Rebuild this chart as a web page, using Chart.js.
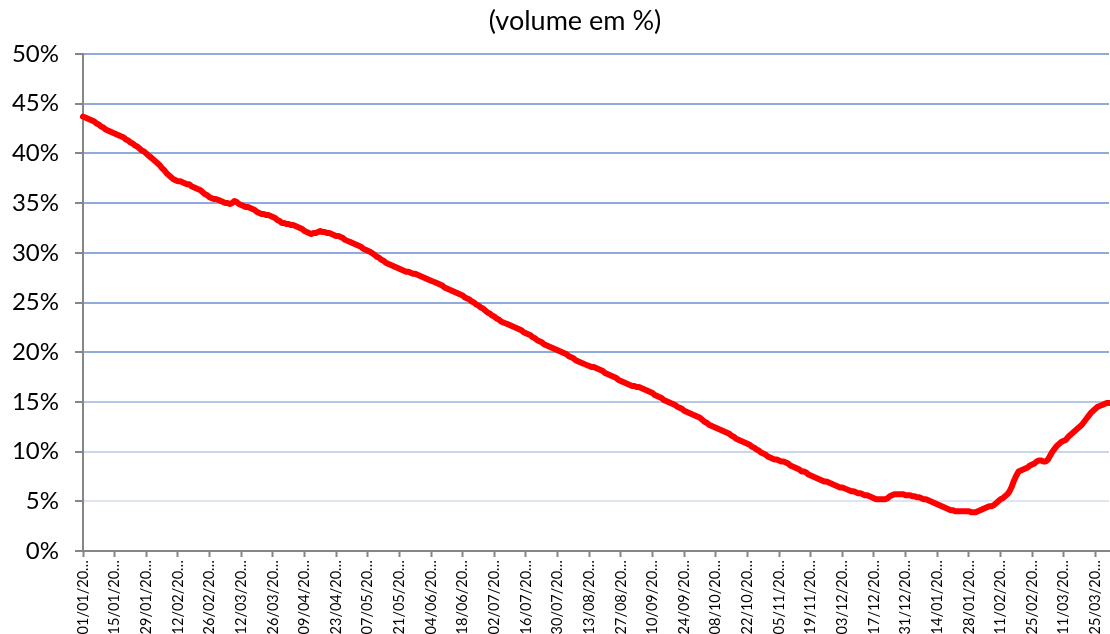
<!DOCTYPE html>
<html>
<head>
<meta charset="utf-8">
<script src="https://cdn.jsdelivr.net/npm/chart.js@4/dist/chart.umd.min.js"></script>
<style>
  html, body { margin: 0; padding: 0; background: #fff; }
  canvas { display: block; }
</style>
</head>
<body>
<canvas id="chart" width="1110" height="634"></canvas>
<script>
// one label per day, 01/01 to 31/03 of the following year (year truncated as in the source)
const monthDays = [31, 28, 31, 30, 31, 30, 31, 31, 30, 31, 30, 31, 31, 28, 31];
const categories = [];
monthDays.forEach((n, m) => {
  for (let d = 1; d <= n; d++) {
    const dd = String(d).padStart(2, "0");
    const mm = String((m % 12) + 1).padStart(2, "0");
    categories.push(dd + "/" + mm + "/20…");
  }
});

// labels shown under the axis, one every 14 days
const tickStep = 14;
const tickLabels = [
  "01/01/20…", "15/01/20…", "29/01/20…", "12/02/20…", "26/02/20…", "12/03/20…",
  "26/03/20…", "09/04/20…", "23/04/20…", "07/05/20…", "21/05/20…", "04/06/20…",
  "18/06/20…", "02/07/20…", "16/07/20…", "30/07/20…", "13/08/20…", "27/08/20…",
  "10/09/20…", "24/09/20…", "08/10/20…", "22/10/20…", "05/11/20…", "19/11/20…",
  "03/12/20…", "17/12/20…", "31/12/20…", "14/01/20…", "28/01/20…", "11/02/20…",
  "25/02/20…", "11/03/20…", "25/03/20…"
];

const chartTitle = "(volume em %)";

// daily volume in % (one row per week)
const volume = [
  43.7, 43.6, 43.5, 43.4, 43.3, 43.2, 43.0,
  42.9, 42.7, 42.6, 42.4, 42.3, 42.2, 42.1,
  42.0, 41.9, 41.8, 41.7, 41.6, 41.4, 41.3,
  41.1, 41.0, 40.8, 40.7, 40.5, 40.3, 40.2,
  40.0, 39.8, 39.6, 39.4, 39.2, 39.0, 38.8,
  38.5, 38.3, 38.0, 37.8, 37.6, 37.4, 37.3,
  37.2, 37.2, 37.1, 37.0, 36.9, 36.9, 36.7,
  36.6, 36.5, 36.4, 36.3, 36.1, 35.9, 35.8,
  35.6, 35.5, 35.4, 35.4, 35.3, 35.2, 35.1,
  35.0, 35.0, 34.9, 35.0, 35.2, 35.1, 34.9,
  34.8, 34.7, 34.6, 34.6, 34.5, 34.4, 34.3,
  34.1, 34.0, 33.9, 33.9, 33.8, 33.8, 33.7,
  33.6, 33.5, 33.3, 33.2, 33.0, 33.0, 32.9,
  32.9, 32.8, 32.8, 32.7, 32.6, 32.5, 32.4,
  32.2, 32.1, 32.0, 31.9, 32.0, 32.0, 32.1,
  32.2, 32.1, 32.1, 32.0, 32.0, 31.9, 31.8,
  31.7, 31.7, 31.6, 31.5, 31.3, 31.2, 31.1,
  31.0, 30.9, 30.8, 30.7, 30.6, 30.4, 30.3,
  30.2, 30.1, 29.95, 29.8, 29.6, 29.5, 29.3,
  29.2, 29.0, 28.9, 28.8, 28.7, 28.6, 28.5,
  28.4, 28.3, 28.2, 28.1, 28.1, 28.0, 27.9,
  27.9, 27.8, 27.7, 27.6, 27.5, 27.4, 27.3,
  27.2, 27.1, 27.0, 26.9, 26.8, 26.7, 26.5,
  26.4, 26.3, 26.2, 26.1, 26.0, 25.9, 25.8,
  25.7, 25.5, 25.4, 25.3, 25.1, 25.0, 24.8,
  24.7, 24.5, 24.4, 24.2, 24.0, 23.9, 23.7,
  23.6, 23.4, 23.3, 23.1, 23.0, 22.9, 22.8,
  22.7, 22.6, 22.5, 22.4, 22.3, 22.2, 22.0,
  21.9, 21.8, 21.7, 21.5, 21.4, 21.2, 21.1,
  21.0, 20.8, 20.7, 20.6, 20.5, 20.4, 20.3,
  20.2, 20.1, 20.0, 19.9, 19.8, 19.6, 19.5,
  19.4, 19.2, 19.1, 19.0, 18.9, 18.8, 18.7,
  18.6, 18.5, 18.5, 18.4, 18.3, 18.2, 18.1,
  17.9, 17.8, 17.7, 17.6, 17.5, 17.4, 17.2,
  17.1, 17.0, 16.9, 16.8, 16.7, 16.6, 16.6,
  16.5, 16.5, 16.4, 16.3, 16.2, 16.1, 16.0,
  15.9, 15.7, 15.6, 15.5, 15.4, 15.2, 15.1,
  15.0, 14.9, 14.8, 14.7, 14.5, 14.4, 14.3,
  14.1, 14.0, 13.9, 13.8, 13.7, 13.6, 13.5,
  13.4, 13.2, 13.0, 12.9, 12.7, 12.6, 12.5,
  12.4, 12.3, 12.2, 12.1, 12.0, 11.9, 11.8,
  11.6, 11.5, 11.3, 11.2, 11.1, 11.0, 10.9,
  10.8, 10.7, 10.5, 10.4, 10.2, 10.1, 9.9,
  9.8, 9.7, 9.5, 9.4, 9.3, 9.2, 9.2,
  9.1, 9.0, 9.0, 8.9, 8.8, 8.6, 8.5,
  8.4, 8.3, 8.2, 8.0, 8.0, 7.9, 7.7,
  7.6, 7.5, 7.4, 7.3, 7.2, 7.1, 7.0,
  7.0, 6.9, 6.8, 6.7, 6.6, 6.5, 6.4,
  6.4, 6.3, 6.2, 6.1, 6.0, 6.0, 5.9,
  5.8, 5.8, 5.7, 5.6, 5.6, 5.5, 5.4,
  5.3, 5.2, 5.2, 5.2, 5.2, 5.2, 5.3,
  5.5, 5.6, 5.7, 5.7, 5.7, 5.7, 5.7,
  5.6, 5.6, 5.6, 5.5, 5.5, 5.4, 5.4,
  5.3, 5.2, 5.2, 5.1, 5.0, 4.9, 4.8,
  4.7, 4.6, 4.5, 4.4, 4.3, 4.2, 4.1,
  4.1, 4.0, 4.0, 4.0, 4.0, 4.0, 4.0,
  4.0, 3.9, 3.9, 3.9, 4.0, 4.1, 4.2,
  4.3, 4.4, 4.5, 4.5, 4.6, 4.8, 5.0,
  5.2, 5.3, 5.5, 5.7, 6.0, 6.5, 7.1,
  7.6, 8.0, 8.1, 8.2, 8.3, 8.4, 8.6,
  8.7, 8.8, 9.0, 9.1, 9.1, 9.0, 9.0,
  9.2, 9.6, 10.0, 10.3, 10.6, 10.8, 11.0,
  11.1, 11.2, 11.5, 11.7, 11.9, 12.1, 12.3,
  12.5, 12.7, 13.0, 13.3, 13.6, 13.9, 14.1,
  14.3, 14.5, 14.6, 14.7, 14.8, 14.9, 14.9
];

// gridlines fade out towards the bottom, as in the original
const gridColor = (v) => {
  if (v >= 20) return "#8faadc";
  if (v >= 15) return "#b4c7e7";
  if (v >= 10) return "#c9d6ee";
  return "#dde5f3";
};

const axisGray = "#868686";

// title sits a bit right of the canvas centre in the original
const titlePlugin = {
  id: "offsetTitle",
  afterDraw(chart) {
    const ctx = chart.ctx;
    ctx.save();
    ctx.font = "27px Lato";
    ctx.fillStyle = "#000";
    ctx.textAlign = "center";
    ctx.textBaseline = "middle";
    ctx.fillText(chartTitle, 575, 21);
    ctx.restore();
  },
};

new Chart(document.getElementById("chart"), {
  type: "line",
  data: {
    labels: categories,
    datasets: [
      {
        data: volume,
        borderColor: "#ff0000",
        borderWidth: 6,
        borderJoinStyle: "round",
        borderCapStyle: "round",
        pointRadius: 0,
        tension: 0,
        fill: false,
      },
    ],
  },
  plugins: [titlePlugin],
  options: {
    responsive: false,
    animation: false,
    devicePixelRatio: 1,
    layout: { padding: { left: 0, right: 1, top: 54, bottom: 0 } },
    plugins: {
      legend: { display: false },
      tooltip: { enabled: false },
      title: { display: false },
    },
    scales: {
      x: {
        offset: false,
        grid: {
          drawOnChartArea: false,
          drawTicks: true,
          tickLength: 6,
          tickWidth: 2,
          tickColor: (ctx) => (ctx.index % tickStep === 0 ? axisGray : "rgba(0,0,0,0)"),
        },
        border: { color: axisGray, width: 2 },
        ticks: {
          autoSkip: false,
          minRotation: 90,
          maxRotation: 90,
          padding: 3,
          color: "#000",
          font: { family: "Lato", size: 14.5 },
          callback: (val, i) => (i % tickStep === 0 ? tickLabels[i / tickStep] : ""),
        },
        afterFit: (scale) => {
          scale.height = 83;
          scale.paddingLeft = 0;
          scale.paddingRight = 0;
        },
      },
      y: {
        min: 0,
        max: 50,
        grid: {
          color: (ctx) => gridColor(ctx.tick.value),
          lineWidth: 2,
          tickLength: 8,
          tickColor: axisGray,
        },
        border: { color: axisGray, width: 2 },
        ticks: {
          stepSize: 5,
          padding: 16,
          color: "#000",
          font: { family: "Lato", size: 24 },
          callback: (v) => v + "%",
        },
        afterFit: (scale) => { scale.width = 83; },
      },
    },
  },
});
</script>
</body>
</html>
